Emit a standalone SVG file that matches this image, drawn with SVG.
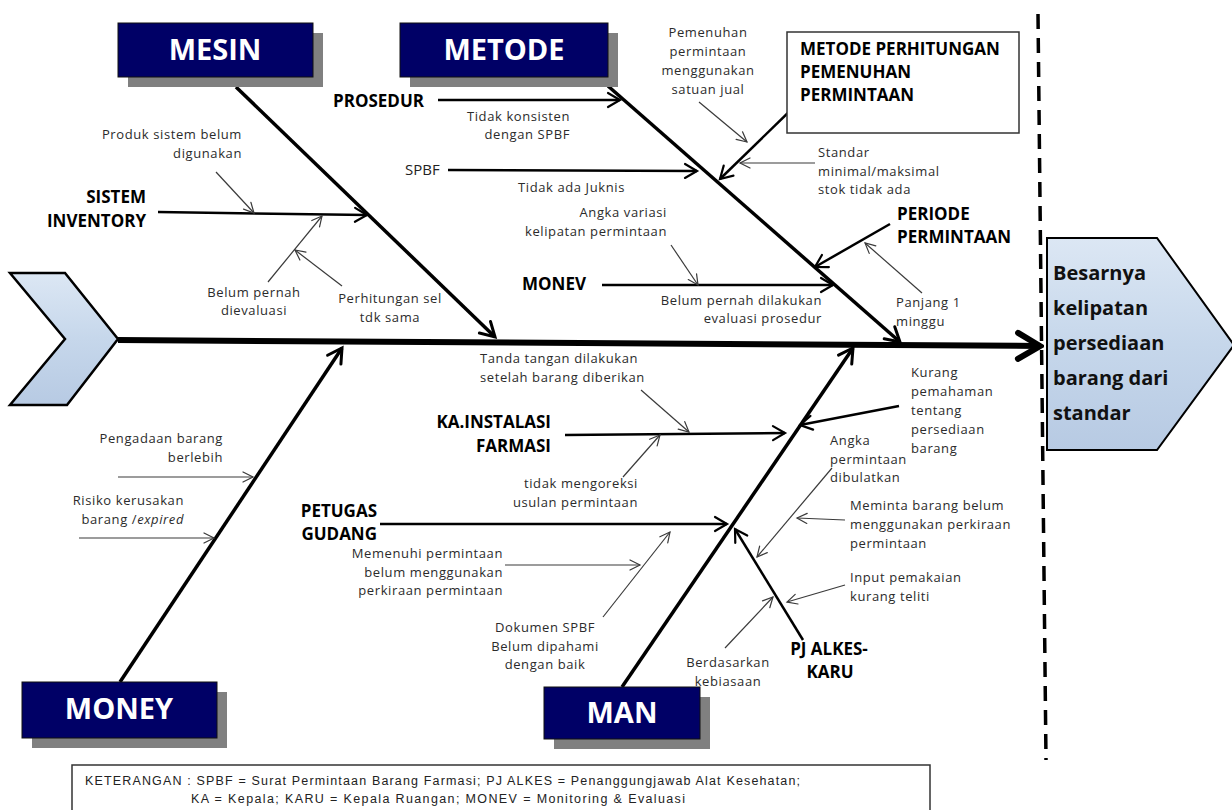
<svg xmlns="http://www.w3.org/2000/svg" width="1232" height="810" viewBox="0 0 1232 810">
  <defs>
    <linearGradient id="blueFill" x1="0" y1="0" x2="0" y2="1">
      <stop offset="0" stop-color="#dce7f4"/>
      <stop offset="0.5" stop-color="#c6d7eb"/>
      <stop offset="1" stop-color="#b7cae3"/>
    </linearGradient>
    <marker id="arrSpine" markerUnits="userSpaceOnUse" viewBox="-30 -20 34 40" markerWidth="34" markerHeight="40" refX="0" refY="0" orient="auto">
      <path d="M-22,-13 L0,0 L-22,13" fill="none" stroke="#000" stroke-width="6" stroke-linecap="round"/>
    </marker>
    <marker id="arrBone" markerUnits="userSpaceOnUse" viewBox="-20 -14 24 28" markerWidth="24" markerHeight="28" refX="0" refY="0" orient="auto">
      <path d="M-14,-8 L0,0 L-14,8" fill="none" stroke="#000" stroke-width="3" stroke-linecap="round"/>
    </marker>
    <marker id="arrSub" markerUnits="userSpaceOnUse" viewBox="-18 -12 22 24" markerWidth="22" markerHeight="24" refX="0" refY="0" orient="auto">
      <path d="M-12,-7 L0,0 L-12,7" fill="none" stroke="#000" stroke-width="2.2" stroke-linecap="round"/>
    </marker>
    <marker id="arrThin" markerUnits="userSpaceOnUse" viewBox="-14 -10 18 20" markerWidth="18" markerHeight="20" refX="0" refY="0" orient="auto">
      <path d="M-10,-5 L0,0 L-10,5" fill="none" stroke="#3a3a3a" stroke-width="1.2" stroke-linecap="round"/>
    </marker>
  </defs>
  <style>
    .hdr-shadow { fill: #808080; }
    .hdr-box { fill: #000066; stroke: #111; stroke-width: 1; }
    .hdr-text { font-family: "Open Sans", "Liberation Sans", sans-serif; font-weight: 700; font-size: 29px; fill: #fff; text-anchor: middle; }
    .cause { font-family: "Open Sans", "Liberation Sans", sans-serif; font-weight: 700; font-size: 17px; fill: #000; }
    .plain { font-family: "Open Sans", "Liberation Sans", sans-serif; font-weight: 400; font-size: 15px; fill: #222; }
    .note { font-family: "Open Sans", "Liberation Sans", sans-serif; font-size: 13px; letter-spacing: 0.6px; fill: #2b2b2b; }
    .effect { font-family: "Open Sans", "Liberation Sans", sans-serif; font-weight: 700; font-size: 20px; fill: #111; }
    .legend { font-family: "Liberation Sans", "Open Sans", sans-serif; font-size: 12.5px; fill: #222; }
    .end { text-anchor: end; }
    .mid { text-anchor: middle; }
    .spine { stroke: #000; stroke-width: 6; fill: none; }
    .bone { stroke: #000; stroke-width: 3.5; fill: none; }
    .sub { stroke: #000; stroke-width: 2.5; fill: none; }
    .ann { stroke: #3a3a3a; stroke-width: 1.2; fill: none; }
  </style>

  <rect width="1232" height="810" fill="#fff"/>

  <!-- tail of the fish -->
  <g id="tail">
    <polygon points="10,273 65,273 118,339 67,405 10,405 65,339" fill="url(#blueFill)" stroke="#000" stroke-width="2.5" stroke-linejoin="miter"/>
  </g>

  <!-- effect (fish head) -->
  <g id="effect">
    <polygon points="1047,238 1157,238 1234,345 1157,450 1047,450" fill="url(#blueFill)" stroke="#000" stroke-width="2"/>
    <text class="effect" x="1053" y="280">Besarnya</text>
    <text class="effect" x="1053" y="315">kelipatan</text>
    <text class="effect" x="1053" y="350">persediaan</text>
    <text class="effect" x="1053" y="385">barang dari</text>
    <text class="effect" x="1053" y="420">standar</text>
  </g>

  <!-- boundary between causes and effect -->
  <line id="divider" x1="1038" y1="14" x2="1046" y2="760" stroke="#000" stroke-width="3.5" stroke-dasharray="15 9"/>

  <!-- connectors -->
  <g id="connectors">
    <path class="spine" d="M118,340 L1040,346" marker-end="url(#arrSpine)"/>

    <path class="bone" d="M236,87 L495,337" marker-end="url(#arrBone)"/>
    <path class="bone" d="M608,86 L900,342" marker-end="url(#arrBone)"/>
    <path class="bone" d="M120,682 L342,348" marker-end="url(#arrBone)"/>
    <path class="bone" d="M622,687 L853,348" marker-end="url(#arrBone)"/>

    <path class="sub" d="M158,212 L367,215" marker-end="url(#arrSub)"/>
    <path class="sub" d="M438,100 L620,100" marker-end="url(#arrSub)"/>
    <path class="sub" d="M448,170 L697,171" marker-end="url(#arrSub)"/>
    <path class="sub" d="M602,285 L833,285" marker-end="url(#arrSub)"/>
    <path class="sub" d="M795,106 L720,179" marker-end="url(#arrSub)"/>
    <path class="sub" d="M890,224 L815,267" marker-end="url(#arrSub)"/>
    <path class="sub" d="M565,435 L785,433" marker-end="url(#arrSub)"/>
    <path class="sub" d="M380,524 L727,524" marker-end="url(#arrSub)"/>
    <path class="sub" d="M803,640 L735,529" marker-end="url(#arrSub)"/>
    <path class="sub" d="M899,406 L800,425" stroke-width="2" marker-end="url(#arrSub)"/>

    <path class="ann" d="M216,172 L254,213" marker-end="url(#arrThin)"/>
    <path class="ann" d="M268,282 L322,216" marker-end="url(#arrThin)"/>
    <path class="ann" d="M342,286 L295,250" marker-end="url(#arrThin)"/>
    <path class="ann" d="M699,102 L747,142" marker-end="url(#arrThin)"/>
    <path class="ann" d="M815,163 L740,163" marker-end="url(#arrThin)"/>
    <path class="ann" d="M671,245 L698,285" marker-end="url(#arrThin)"/>
    <path class="ann" d="M922,293 L865,243" marker-end="url(#arrThin)"/>
    <path class="ann" d="M641,390 L689,432" marker-end="url(#arrThin)"/>
    <path class="ann" d="M623,477 L660,435" marker-end="url(#arrThin)"/>
    <path class="ann" d="M505,565 L640,565" marker-end="url(#arrThin)"/>
    <path class="ann" d="M603,617 L670,532" marker-end="url(#arrThin)"/>
    <path class="ann" d="M832,468 L757,557" marker-end="url(#arrThin)"/>
    <path class="ann" d="M845,520 L797,518" marker-end="url(#arrThin)"/>
    <path class="ann" d="M845,585 L787,602" marker-end="url(#arrThin)"/>
    <path class="ann" d="M725,648 L773,597" marker-end="url(#arrThin)"/>
    <path class="ann" d="M118,477 L253,477" marker-end="url(#arrThin)"/>
    <path class="ann" d="M79,538 L214,538" marker-end="url(#arrThin)"/>
  </g>

  <!-- category headers -->
  <g id="mesin">
    <rect class="hdr-shadow" x="128" y="33" width="195" height="54"/>
    <rect class="hdr-box" x="118" y="23" width="195" height="54"/>
    <text class="hdr-text" x="215" y="60">MESIN</text>
  </g>
  <g id="metode">
    <rect class="hdr-shadow" x="410" y="33" width="208" height="54"/>
    <rect class="hdr-box" x="400" y="23" width="208" height="54"/>
    <text class="hdr-text" x="504" y="60">METODE</text>
  </g>
  <g id="money">
    <rect class="hdr-shadow" x="32" y="692" width="195" height="56"/>
    <rect class="hdr-box" x="22" y="682" width="195" height="56"/>
    <text class="hdr-text" x="119" y="719">MONEY</text>
  </g>
  <g id="man">
    <rect class="hdr-shadow" x="554" y="697" width="156" height="52"/>
    <rect class="hdr-box" x="544" y="687" width="156" height="52"/>
    <text class="hdr-text" x="622" y="723">MAN</text>
  </g>

  <!-- MESIN causes -->
  <g id="sistem-inventory">
    <text class="cause end" x="146" y="203">SISTEM</text>
    <text class="cause end" x="146" y="227">INVENTORY</text>
  </g>
  <g id="note-produk">
    <text class="note end" x="242" y="139">Produk sistem belum</text>
    <text class="note end" x="242" y="158">digunakan</text>
  </g>
  <g id="note-belum-evaluasi">
    <text class="note mid" x="254" y="297">Belum pernah</text>
    <text class="note mid" x="254" y="315">dievaluasi</text>
  </g>
  <g id="note-perhitungan">
    <text class="note mid" x="390" y="303">Perhitungan sel</text>
    <text class="note mid" x="390" y="322">tdk sama</text>
  </g>

  <!-- METODE causes -->
  <g id="prosedur">
    <text class="cause" x="333" y="107">PROSEDUR</text>
  </g>
  <g id="note-konsisten">
    <text class="note end" x="570" y="121">Tidak konsisten</text>
    <text class="note end" x="570" y="139">dengan SPBF</text>
  </g>
  <g id="spbf">
    <text class="plain" x="405" y="175">SPBF</text>
  </g>
  <g id="note-juknis">
    <text class="note" x="518" y="192">Tidak ada Juknis</text>
  </g>
  <g id="note-angka-variasi">
    <text class="note end" x="667" y="217">Angka variasi</text>
    <text class="note end" x="667" y="236">kelipatan permintaan</text>
  </g>
  <g id="monev">
    <text class="cause" x="522" y="290">MONEV</text>
  </g>
  <g id="note-monev">
    <text class="note end" x="822" y="305">Belum  pernah dilakukan</text>
    <text class="note end" x="822" y="323">evaluasi prosedur</text>
  </g>
  <g id="note-pemenuhan">
    <text class="note mid" x="708" y="37">Pemenuhan</text>
    <text class="note mid" x="708" y="56">permintaan</text>
    <text class="note mid" x="708" y="75">menggunakan</text>
    <text class="note mid" x="708" y="94">satuan jual</text>
  </g>
  <g id="metode-perhitungan">
    <rect x="787" y="32" width="232" height="101" fill="#fff" stroke="#333" stroke-width="1.5"/>
    <text class="cause" x="800" y="55">METODE PERHITUNGAN</text>
    <text class="cause" x="800" y="78">PEMENUHAN</text>
    <text class="cause" x="800" y="101">PERMINTAAN</text>
  </g>
  <g id="note-standar">
    <text class="note" x="818" y="157">Standar</text>
    <text class="note" x="818" y="176">minimal/maksimal</text>
    <text class="note" x="818" y="194">stok tidak ada</text>
  </g>
  <g id="periode-permintaan">
    <text class="cause" x="897" y="220">PERIODE</text>
    <text class="cause" x="897" y="243">PERMINTAAN</text>
  </g>
  <g id="note-panjang">
    <text class="note" x="896" y="307">Panjang 1</text>
    <text class="note" x="896" y="326">minggu</text>
  </g>

  <!-- MONEY causes -->
  <g id="note-pengadaan">
    <text class="note end" x="223" y="443">Pengadaan barang</text>
    <text class="note end" x="223" y="462">berlebih</text>
  </g>
  <g id="note-risiko">
    <text class="note end" x="184" y="505">Risiko kerusakan</text>
    <text class="note end" x="184" y="524">barang /<tspan font-style="italic">expired</tspan></text>
  </g>

  <!-- MAN causes -->
  <g id="note-tanda-tangan">
    <text class="note" x="480" y="363">Tanda tangan  dilakukan</text>
    <text class="note" x="480" y="382">setelah barang diberikan</text>
  </g>
  <g id="ka-instalasi">
    <text class="cause end" x="551" y="428">KA.INSTALASI</text>
    <text class="cause end" x="551" y="452">FARMASI</text>
  </g>
  <g id="note-mengoreksi">
    <text class="note end" x="638" y="488">tidak mengoreksi</text>
    <text class="note end" x="638" y="507">usulan permintaan</text>
  </g>
  <g id="petugas-gudang">
    <text class="cause end" x="377" y="517">PETUGAS</text>
    <text class="cause end" x="377" y="540">GUDANG</text>
  </g>
  <g id="note-memenuhi">
    <text class="note end" x="503" y="558">Memenuhi  permintaan</text>
    <text class="note end" x="503" y="577">belum menggunakan</text>
    <text class="note end" x="503" y="595">perkiraan permintaan</text>
  </g>
  <g id="note-dokumen">
    <text class="note mid" x="545" y="632">Dokumen  SPBF</text>
    <text class="note mid" x="545" y="651">Belum dipahami</text>
    <text class="note mid" x="545" y="669">dengan baik</text>
  </g>
  <g id="pj-alkes">
    <text class="cause mid" x="829" y="655">PJ ALKES-</text>
    <text class="cause mid" x="830" y="678">KARU</text>
  </g>
  <g id="note-kebiasaan">
    <text class="note mid" x="728" y="667">Berdasarkan</text>
    <text class="note mid" x="728" y="686">kebiasaan</text>
  </g>
  <g id="note-input">
    <text class="note" x="850" y="582">Input pemakaian</text>
    <text class="note" x="850" y="601">kurang teliti</text>
  </g>
  <g id="note-meminta">
    <text class="note" x="850" y="510">Meminta barang  belum</text>
    <text class="note" x="850" y="529">menggunakan perkiraan</text>
    <text class="note" x="850" y="548">permintaan</text>
  </g>
  <g id="note-dibulatkan">
    <text class="note" x="830" y="445">Angka</text>
    <text class="note" x="830" y="464">permintaan</text>
    <text class="note" x="830" y="482">dibulatkan</text>
  </g>
  <g id="note-pemahaman">
    <text class="note" x="911" y="377">Kurang</text>
    <text class="note" x="911" y="396">pemahaman</text>
    <text class="note" x="911" y="415">tentang</text>
    <text class="note" x="911" y="434">persediaan</text>
    <text class="note" x="911" y="453">barang</text>
  </g>

  <!-- abbreviations -->
  <g id="keterangan">
    <rect x="72" y="765" width="858" height="60" fill="#fff" stroke="#333" stroke-width="1.5"/>
    <text class="legend" x="85" y="785" textLength="715" lengthAdjust="spacing">KETERANGAN  : SPBF = Surat Permintaan Barang Farmasi; PJ ALKES = Penanggungjawab  Alat Kesehatan;</text>
    <text class="legend" x="191" y="803" textLength="494" lengthAdjust="spacing">KA = Kepala;  KARU = Kepala Ruangan;  MONEV = Monitoring &amp; Evaluasi</text>
  </g>
</svg>
